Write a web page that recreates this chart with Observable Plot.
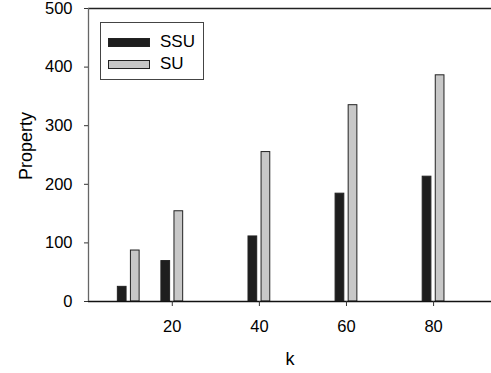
<!DOCTYPE html>
<html>
<head>
<meta charset="utf-8">
<script src="https://cdn.jsdelivr.net/npm/d3@7"></script>
<script src="https://cdn.jsdelivr.net/npm/@observablehq/plot@0.6"></script>
<style>
  html, body { margin: 0; padding: 0; background: #fff; }
  #wrap { position: relative; width: 491px; height: 373px; font-family: "Liberation Sans", Arial, sans-serif; }
  #legend { position: absolute; left: 100px; top: 22px; width: 104px; height: 58px; border: 1px solid #444; box-sizing: border-box; background: #fff; }
  .row { position: absolute; left: 7px; height: 20px; display: flex; align-items: center; }
  .sw { width: 42px; height: 9px; box-sizing: border-box; border: 1px solid #222; margin-right: 10px; }
  .lab { font-size: 17px; color: #000; line-height: 20px; }
</style>
</head>
<body>
<div id="wrap"></div>
<script>
const ks = [10, 20, 40, 60, 80];
const ssu = [25, 69, 111, 184, 213];
const su = [87, 154, 255, 335, 386];
const series = ["SSU", "SU"];
const colors = ["#1e1e1e", "#c8c8c8"];
const yTicks = [0, 100, 200, 300, 400, 500];
const xTicks = [20, 40, 60, 80];

const rows = [];
ks.forEach((k, i) => {
  rows.push({k, s: "SSU", v: ssu[i]});
  rows.push({k, s: "SU", v: su[i]});
});

const halfGap = 0.5, barW = 2.0;
const x1 = d => d.s === "SSU" ? d.k - halfGap - barW : d.k + halfGap;
const x2 = d => d.s === "SSU" ? d.k - halfGap : d.k + halfGap + barW;

const chart = Plot.plot({
  width: 491,
  height: 373,
  marginTop: 8,
  marginBottom: 72,
  marginLeft: 88,
  marginRight: 0,
  style: {fontFamily: "Liberation Sans, Arial, sans-serif", fontSize: "17px", color: "#000", background: "#fff"},
  x: {domain: [0.76, 93.3]},
  y: {domain: [0, 500]},
  color: {domain: series, range: colors},
  marks: [
    Plot.rectY(rows, {x1, x2, y1: 0, y2: "v", fill: "s", stroke: "#222", strokeWidth: 1}),
    Plot.ruleY([0], {stroke: "#111", strokeWidth: 1.3}),
    Plot.ruleY([500], {stroke: "#222", strokeWidth: 1.3}),
    Plot.ruleX([0.76], {stroke: "#666", strokeWidth: 1.3}),
    Plot.axisY({ticks: yTicks, tickSize: 4, tickPadding: 12, label: null, fontSize: 16.5, stroke: "#333"}),
    Plot.axisX({ticks: xTicks, tickSize: 5, tickPadding: 13.5, label: null, fontSize: 16.5, stroke: "#333"}),
    Plot.text(["Property"], {frameAnchor: "left", rotate: -90, dx: -62.5, dy: -9, fontSize: 18, lineAnchor: "middle", textAnchor: "middle"}),
    Plot.text(["k"], {frameAnchor: "bottom", dy: 57.5, fontSize: 18, lineAnchor: "middle", textAnchor: "middle"})
  ]
});

const wrap = document.getElementById("wrap");
wrap.appendChild(chart);

const legend = document.createElement("div");
legend.id = "legend";
series.forEach((s, i) => {
  const r = document.createElement("div");
  r.className = "row";
  r.style.top = (i === 0 ? 9 : 31) + "px";
  const sw = document.createElement("div");
  sw.className = "sw";
  sw.style.background = colors[i];
  const lab = document.createElement("span");
  lab.className = "lab";
  lab.textContent = s;
  r.appendChild(sw);
  r.appendChild(lab);
  legend.appendChild(r);
});
wrap.appendChild(legend);
</script>
</body>
</html>
